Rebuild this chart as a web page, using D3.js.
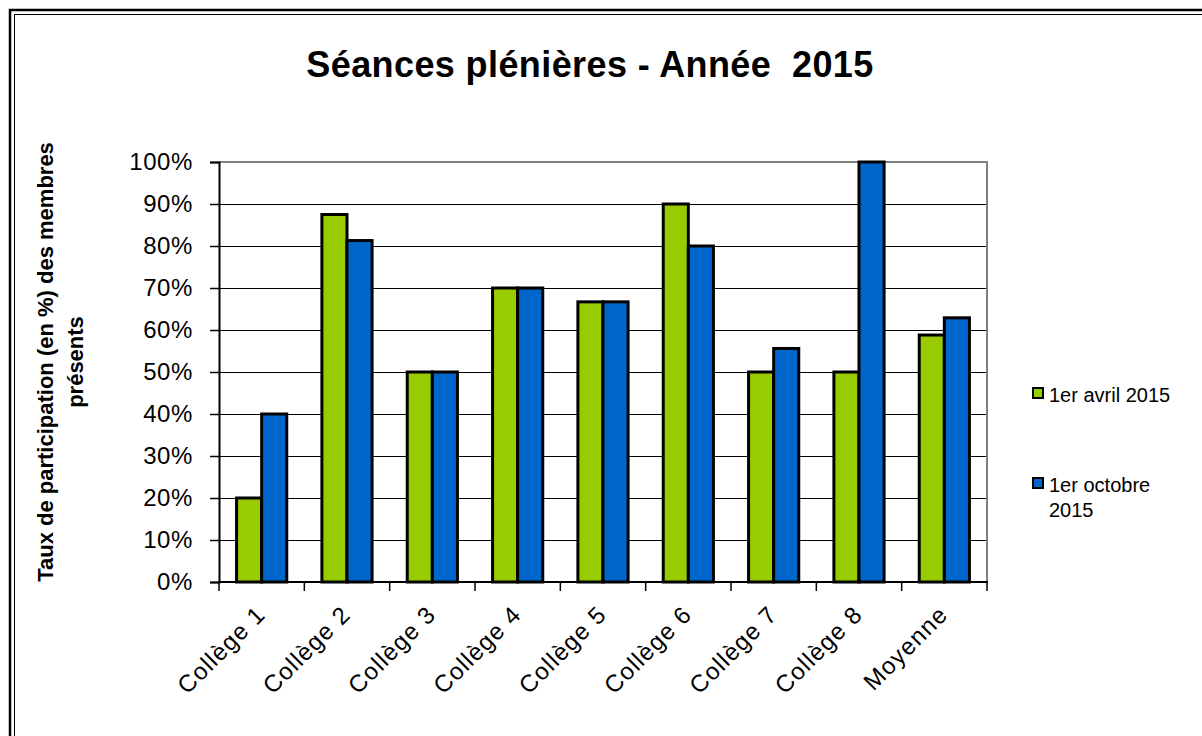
<!DOCTYPE html>
<html>
<head>
<meta charset="utf-8">
<script src="https://cdn.jsdelivr.net/npm/d3@7"></script>
<style>
  body { margin: 0; background: #fff; }
  svg { display: block; font-family: "Liberation Sans", Arial, sans-serif; }
</style>
</head>
<body>
<div id="chart-area"></div>
<script>
// data
const categories = ["Collège 1", "Collège 2", "Collège 3", "Collège 4", "Collège 5", "Collège 6", "Collège 7", "Collège 8", "Moyenne"]
const seriesNames = ["1er avril 2015", "1er octobre 2015"]
const avril = [20, 87.5, 50, 70, 66.7, 90, 50, 50, 58.8]
const octobre = [40, 81.3, 50, 70, 66.7, 80, 55.6, 100, 62.9]
const yTicks = [0, 10, 20, 30, 40, 50, 60, 70, 80, 90, 100]
const colors = ["#99CC00", "#0066CC"]

const W = 1202, H = 736
const PLOT = { LEFT: 219, RIGHT: 987, TOP: 162, BOTTOM: 582 }

const svg = d3.select("#chart-area").append("svg")
    .attr("width", W)
    .attr("height", H)

// outer double frame
svg.append("rect")
    .attr("x", 10).attr("y", 10)
    .attr("width", W + 20).attr("height", H + 20)
    .attr("fill", "none").attr("stroke", "#000").attr("stroke-width", 2.5)
svg.append("rect")
    .attr("x", 14.5).attr("y", 14.5)
    .attr("width", W + 20).attr("height", H + 20)
    .attr("fill", "none").attr("stroke", "#000").attr("stroke-width", 1)

// title
svg.append("text")
    .attr("x", 590)
    .attr("y", 77)
    .attr("text-anchor", "middle")
    .attr("font-size", "36px")
    .attr("font-weight", "bold")
    .attr("letter-spacing", "0.4px")
    .style("white-space", "pre")
    .text("Séances plénières - Année  2015")

// scales
const x0 = d3.scaleBand()
    .domain(categories)
    .range([PLOT.LEFT, PLOT.RIGHT])
    .padding(0)
const x1 = d3.scaleBand()
    .domain(seriesNames)
    .range([0, x0.bandwidth()])
    .paddingInner(0)
    .paddingOuter(0.7)
const y = d3.scaleLinear()
    .domain([0, 100])
    .range([PLOT.BOTTOM, PLOT.TOP])

// gridlines
svg.append("g")
    .selectAll("line")
    .data(yTicks.filter(t => t > 0 && t < 100))
    .join("line")
    .attr("x1", PLOT.LEFT).attr("x2", PLOT.RIGHT)
    .attr("y1", d => Math.round(y(d)) + 0.5).attr("y2", d => Math.round(y(d)) + 0.5)
    .attr("stroke", "#000")
    .attr("stroke-width", 1)

// gray plot border (top + right)
svg.append("path")
    .attr("d", `M${PLOT.LEFT},${PLOT.TOP} H${PLOT.RIGHT} V${PLOT.BOTTOM}`)
    .attr("fill", "none")
    .attr("stroke", "#808080")
    .attr("stroke-width", 2)

// bars
const groups = svg.append("g")
    .selectAll("g")
    .data(categories)
    .join("g")
    .attr("transform", d => `translate(${x0(d)}, 0)`)

groups.selectAll("rect")
    .data((d, i) => [
        { key: seriesNames[0], value: avril[i] },
        { key: seriesNames[1], value: octobre[i] }
    ])
    .join("rect")
    .attr("x", d => x1(d.key))
    .attr("y", d => y(d.value))
    .attr("width", x1.bandwidth())
    .attr("height", d => PLOT.BOTTOM - y(d.value))
    .attr("fill", (d, i) => colors[i])
    .attr("stroke", "#000")
    .attr("stroke-width", 3)

// y axis
const yAxisCall = d3.axisLeft(y)
    .tickValues(yTicks)
    .tickSize(9)
    .tickPadding(17)
    .tickFormat(d => d + "%")
const yAxis = svg.append("g")
    .attr("transform", `translate(${PLOT.LEFT}, 0)`)
    .call(yAxisCall)
yAxis.select(".domain").attr("stroke", "#000").attr("stroke-width", 2)
yAxis.selectAll(".tick line").attr("stroke", "#000").attr("stroke-width", 1.5)
yAxis.selectAll(".tick text")
    .attr("font-size", "24px")
    .attr("letter-spacing", "0.6px")
    .attr("font-family", "'Liberation Sans', Arial, sans-serif")
    .attr("fill", "#000")

// x axis: ticks on category boundaries
const xAxis = svg.append("g")
xAxis.append("line")
    .attr("x1", PLOT.LEFT - 1).attr("x2", PLOT.RIGHT + 1)
    .attr("y1", PLOT.BOTTOM).attr("y2", PLOT.BOTTOM)
    .attr("stroke", "#000").attr("stroke-width", 2)
xAxis.selectAll(".xtick")
    .data(categories.concat([null]))
    .join("line")
    .attr("class", "xtick")
    .attr("x1", d => d === null ? PLOT.RIGHT : x0(d))
    .attr("x2", d => d === null ? PLOT.RIGHT : x0(d))
    .attr("y1", PLOT.BOTTOM).attr("y2", PLOT.BOTTOM + 9)
    .attr("stroke", "#000").attr("stroke-width", 1.5)
xAxis.selectAll(".xlabel")
    .data(categories)
    .join("text")
    .attr("class", "xlabel")
    .attr("transform", d => `translate(${x0(d) + x0.bandwidth() / 2 + 5}, 616) rotate(-45)`)
    .attr("text-anchor", "end")
    .attr("font-size", "24px")
    .attr("letter-spacing", "1.2px")
    .text(d => d)

// y axis title
const yTitle = svg.append("text")
    .attr("transform", "translate(53, 362) rotate(-90)")
    .attr("text-anchor", "middle")
    .attr("font-size", "22px")
    .attr("font-weight", "bold")
yTitle.append("tspan").attr("x", 0).attr("y", 0).text("Taux de participation (en %) des membres")
yTitle.append("tspan").attr("x", 0).attr("y", 30).text("présents")

// legend
const legendItems = [
    { color: colors[0], lines: ["1er avril 2015"], y: 388 },
    { color: colors[1], lines: ["1er octobre", "2015"], y: 478 }
]
const legend = svg.append("g")
legendItems.forEach(item => {
    legend.append("rect")
        .attr("x", 1033).attr("y", item.y)
        .attr("width", 10).attr("height", 10)
        .attr("fill", item.color)
        .attr("stroke", "#000").attr("stroke-width", 2)
    const t = legend.append("text")
        .attr("font-size", "20px")
    item.lines.forEach((ln, j) => {
        t.append("tspan")
            .attr("x", 1049)
            .attr("y", item.y + 14 + j * 25)
            .text(ln)
    })
})
</script>
</body>
</html>
